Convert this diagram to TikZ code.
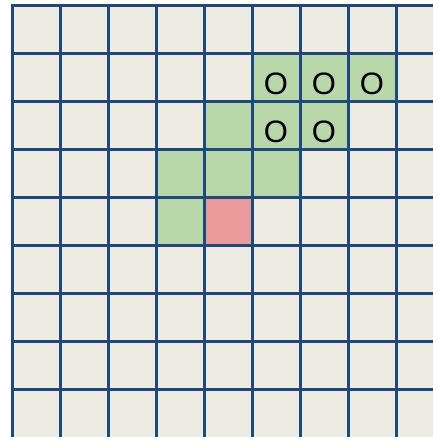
\documentclass[tikz,border=0pt]{standalone}
\usepackage{fontspec}
\setmainfont{Liberation Sans}
\definecolor{cellbg}{HTML}{EEEBE2}
\definecolor{cellgreen}{HTML}{B8D8AA}
\definecolor{cellred}{HTML}{E99A9A}
\definecolor{gridblue}{HTML}{1F497D}
\tikzset{gridline/.style={draw=gridblue,line width=3pt},
  mark o/.style={anchor=base,font=\fontsize{31}{36}\selectfont,inner sep=0pt}}
\begin{document}
\begin{tikzpicture}[x=1pt,y=1pt]
\useasboundingbox (0,0) rectangle (433,437);
\fill[cellbg] (12,0) rectangle (433,431);
% visited cells
\foreach \c/\r in {5/1,6/1,7/1,4/2,5/2,6/2,3/3,4/3,5/3,3/4}
  \fill[cellgreen] (12+48*\c,431-48*\r) rectangle ++(48,-48);
\fill[cellred] (12+48*4,431-48*4) rectangle ++(48,-48);
% grid
\foreach \x in {12,60,...,396} \draw[gridline] (\x,0)--(\x,432.5);
\foreach \y in {431,383,...,47} \draw[gridline] (10.5,\y)--(433,\y);
\node[mark o] (o1) at (276,342) {O}; \node[mark o] (o2) at (324,342) {O}; \node[mark o] (o3) at (372,342) {O};
\node[mark o] (o4) at (276,294) {O}; \node[mark o] (o5) at (324,294) {O};
\end{tikzpicture}
\end{document}
